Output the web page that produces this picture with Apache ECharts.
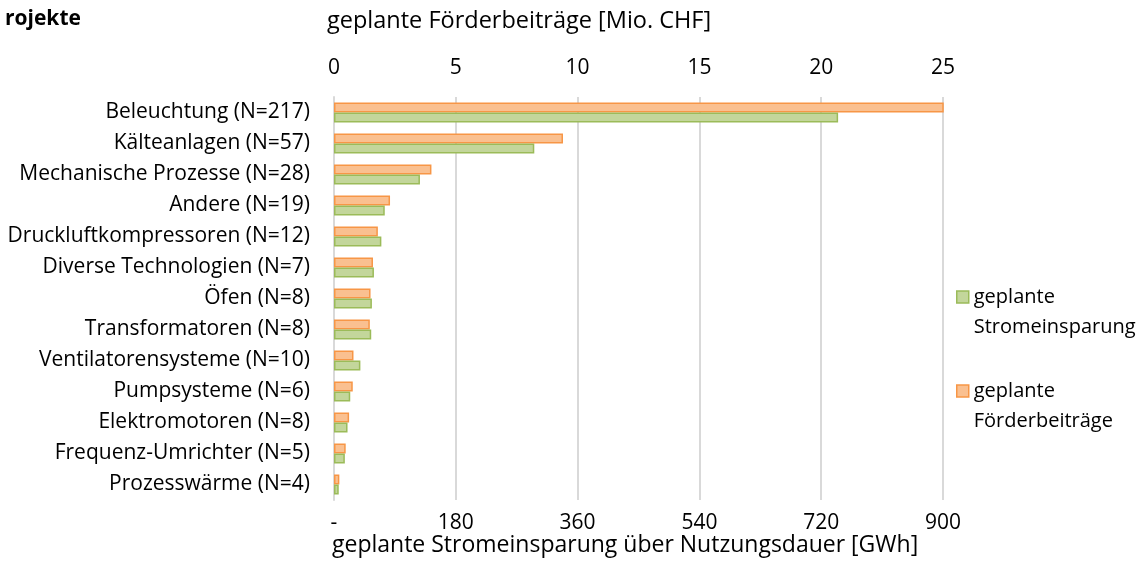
<!DOCTYPE html>
<html>
<head>
<meta charset="utf-8">
<script src="https://cdn.jsdelivr.net/npm/echarts@6/dist/echarts.min.js"></script>
<style>
  html, body { margin: 0; padding: 0; background: #fff; }
  #chart { width: 1144px; height: 567px; }
</style>
</head>
<body>
<div id="chart"></div>
<script>
// Kategorien (von oben nach unten)
const categories = [
  'Beleuchtung (N=217)',
  'Kälteanlagen (N=57)',
  'Mechanische Prozesse (N=28)',
  'Andere (N=19)',
  'Druckluftkompressoren (N=12)',
  'Diverse Technologien (N=7)',
  'Öfen (N=8)',
  'Transformatoren (N=8)',
  'Ventilatorensysteme (N=10)',
  'Pumpsysteme (N=6)',
  'Elektromotoren (N=8)',
  'Frequenz-Umrichter (N=5)',
  'Prozesswärme (N=4)'
]
// geplante Stromeinsparung über Nutzungsdauer [GWh]
const stromeinsparung = [745, 296, 127, 75, 70, 59, 56, 55, 39, 24, 20, 16, 7]
// geplante Förderbeiträge [Mio. CHF]
const foerderbeitraege = [26, 9.4, 4.0, 2.3, 1.8, 1.6, 1.5, 1.47, 0.8, 0.77, 0.62, 0.48, 0.22]
// Achsenbeschriftungen
const chfTicks = [0, 5, 10, 15, 20, 25]
const gwhTicks = [0, 180, 360, 540, 720, 900]

const FONT = 'Open Sans'
const FS = 21
const TXT = '#000'

const myChart = echarts.init(document.getElementById('chart'))

const option = {
  animation: false,
  textStyle: { fontFamily: FONT },
  title: [
    {
      text: 'rojekte',
      left: 0, top: 4,
      textStyle: { fontFamily: FONT, fontSize: 21, fontWeight: 'bold', color: TXT },
    },
    {
      text: 'geplante Förderbeiträge [Mio. CHF]',
      left: 322, top: 4,
      textStyle: { fontFamily: FONT, fontSize: 23.5, fontWeight: 'normal', color: TXT },
    },
    {
      text: 'geplante Stromeinsparung über Nutzungsdauer [GWh]',
      left: 327, top: 529,
      textStyle: { fontFamily: FONT, fontSize: 23, fontWeight: 'normal', color: TXT },
    },
  ],
  legend: {
    orient: 'vertical',
    left: 951,
    top: 247,
    itemWidth: 12,
    itemHeight: 12,
    itemGap: 4,
    icon: 'rect',
    // leere erste Zeile, damit "geplante" auf Höhe des Symbols steht
    formatter: name => '\n' + name.replace(' ', '\n'),
    textStyle: {
      fontFamily: FONT, fontSize: 20, color: TXT,
      lineHeight: 30,
    },
    data: [
      { name: 'geplante Stromeinsparung', itemStyle: { color: '#C3D69B', borderColor: '#9BBB59', borderWidth: 1.5 } },
      { name: 'geplante Förderbeiträge', itemStyle: { color: '#FAC090', borderColor: '#F79646', borderWidth: 1.5 } },
    ],
  },
  grid: {
    left: 334,
    right: 201,
    top: 97,
    bottom: 67,
    containLabel: false,
  },
  xAxis: [
    {
      // unten: GWh
      type: 'value',
      position: 'bottom',
      min: gwhTicks[0],
      max: gwhTicks[gwhTicks.length - 1],
      interval: 180,
      axisLine: { show: false },
      axisTick: { show: false },
      splitLine: { show: true, lineStyle: { color: '#D9D9D9', width: 2 } },
      axisLabel: {
        margin: 13,
        fontSize: FS,
        color: TXT,
        fontFamily: FONT,
        formatter: v => (v === 0 ? '-' : String(v)),
      },
    },
    {
      // oben: Mio. CHF
      type: 'value',
      position: 'top',
      min: chfTicks[0],
      max: chfTicks[chfTicks.length - 1],
      interval: 5,
      axisLine: { show: false },
      axisTick: { show: false },
      splitLine: { show: false },
      axisLabel: {
        margin: 18,
        fontSize: FS,
        color: TXT,
        fontFamily: FONT,
      },
    },
  ],
  yAxis: {
    type: 'category',
    inverse: true,
    data: categories,
    axisLine: { show: true, lineStyle: { color: '#D9D9D9', width: 2 } },
    axisTick: { show: false },
    axisLabel: {
      margin: 24,
      fontSize: FS,
      color: TXT,
      fontFamily: FONT,
    },
  },
  series: [
    {
      name: 'geplante Förderbeiträge',
      type: 'bar',
      xAxisIndex: 1,
      data: foerderbeitraege,
      barWidth: 10,
      barGap: '0%',
      clip: true,
      itemStyle: { color: '#FAC090', borderColor: '#F79646', borderWidth: 1.5 },
    },
    {
      name: 'geplante Stromeinsparung',
      type: 'bar',
      xAxisIndex: 0,
      data: stromeinsparung,
      barWidth: 10,
      barGap: '0%',
      itemStyle: { color: '#C3D69B', borderColor: '#9BBB59', borderWidth: 1.5 },
    },
  ],
}

myChart.setOption(option)
</script>
</body>
</html>
